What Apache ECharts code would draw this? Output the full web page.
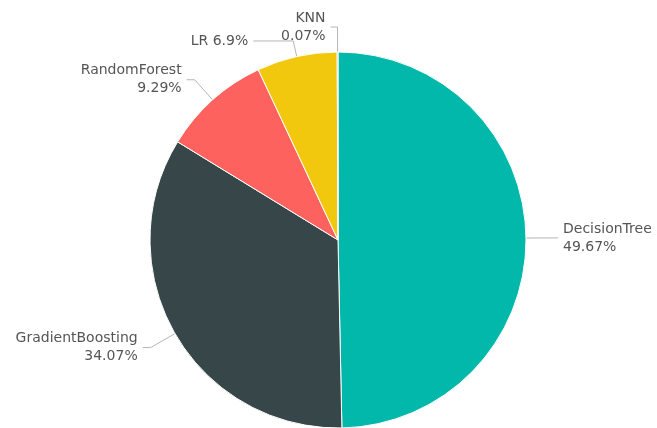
<!DOCTYPE html>
<html>
<head>
<meta charset="utf-8">
<script src="https://cdn.jsdelivr.net/npm/echarts@6/dist/echarts.min.js"></script>
<style>
  html, body { margin: 0; padding: 0; background: #fff; }
  #main { width: 657px; height: 428px; }
</style>
</head>
<body>
<div id="main"></div>
<script>
  // model names and their share (%)
  var models = ['DecisionTree', 'GradientBoosting', 'RandomForest', 'LR', 'KNN'];
  var shares = [49.67, 34.07, 9.29, 6.9, 0.07];
  var colors = ['#01B8AA', '#374649', '#FD625E', '#F2C80F', '#5F6B6D'];
  // leader line lengths per slice [length, length2]
  var leaders = [[10, 22], [28, 8], [27, 8], [16, 40], [25, 7]];

  var chart = echarts.init(document.getElementById('main'));

  var data = models.map(function (name, i) {
    var item = {
      name: name,
      value: shares[i],
      itemStyle: { color: colors[i] },
      labelLine: { length: leaders[i][0], length2: leaders[i][1] }
    };
    if (name === 'LR') {
      item.label = { formatter: '{b} {c}%' };
    }
    return item;
  });

  chart.setOption({
    animation: false,
    series: [
      {
        type: 'pie',
        center: [338, 240],
        radius: 188,
        startAngle: 90,
        clockwise: true,
        avoidLabelOverlap: false,
        data: data,
        itemStyle: { borderColor: '#fff', borderWidth: 1 },
        label: {
          show: true,
          formatter: '{b}\n{c}%',
          color: '#555',
          fontSize: 14,
          fontFamily: 'DejaVu Sans',
          lineHeight: 18,
          overflow: 'none'
        },
        labelLine: {
          show: true,
          lineStyle: { color: '#b5b5b5', width: 1 }
        }
      }
    ]
  });
</script>
</body>
</html>
